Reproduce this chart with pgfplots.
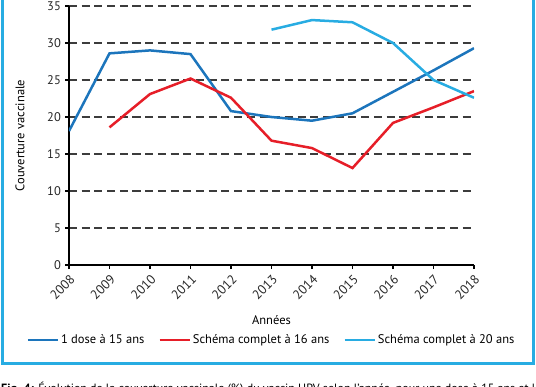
\documentclass[border=0pt]{standalone}
\usepackage{fontspec}
\setmainfont{PT Sans}
\usepackage{pgfplots}
\pgfplotsset{compat=1.18}
\definecolor{dblue}{RGB}{28,117,188}
\definecolor{cred}{RGB}{230,30,40}
\definecolor{lblue}{RGB}{40,172,226}
\definecolor{gridc}{RGB}{60,60,60}
\begin{document}
\fontsize{12}{14}\selectfont
\begin{tikzpicture}[x=1pt,y=1pt]
\clip (-69,-121) rectangle (467,265);
\draw[lblue, line width=3pt] (-66.5,-98) rectangle (464,300);
\begin{axis}[
  at={(0,0)}, anchor=south west,
  scale only axis, width=405pt, height=259pt,
  xmin=2008, xmax=2018, ymin=0, ymax=35,
  axis x line*=bottom, axis y line*=left,
  axis line style={line width=1.3pt, black},
  xtick={2008,...,2018}, ytick={0,5,...,35},
  tick align=outside, major tick length=4pt,
  tick style={line width=1.2pt, black},
  /pgf/number format/1000 sep={},
  /pgf/number format/assume math mode=true,
  ticklabel style={font=\fontsize{12.5}{14}\selectfont, text=black!85},
  xticklabel style={rotate=45, anchor=north east, inner sep=3.5pt, font=\fontsize{13}{14}\selectfont},
  ymajorgrids,
  grid style={gridc, line width=1.4pt, dash pattern=on 8pt off 4.7pt},
  xlabel={Années},
  xlabel style={at={(axis description cs:0.5,-0.212)}, anchor=center, font=\fontsize{12.5}{14}\selectfont},
  ylabel={Couverture vaccinale},
  ylabel style={at={(axis description cs:-0.121,0.5)}, anchor=center, font=\fontsize{12.5}{14}\selectfont},
  legend columns=3,
  legend style={at={(axis description cs:0.5,-0.29)}, anchor=center, draw=none, fill=none,
    font=\fontsize{12.5}{14}\selectfont,
    /tikz/every even column/.append style={column sep=12pt}},
  legend image code/.code={\draw[#1, line width=2.5pt] (0pt,0pt) -- (30pt,0pt);},
]
\addplot[dblue, line width=2.5pt] coordinates {
(2008,18.1) (2009,28.6) (2010,29.0) (2011,28.5) (2012,20.8) (2013,20.0) (2014,19.5) (2015,20.5) (2016,23.4) (2017,26.3) (2018,29.3)};
\addlegendentry{1 dose à 15 ans}
\addplot[cred, line width=2.5pt] coordinates {
(2009,18.6) (2010,23.1) (2011,25.2) (2012,22.6) (2013,16.8) (2014,15.8) (2015,13.1) (2016,19.2) (2017,21.3) (2018,23.5)};
\addlegendentry{Schéma complet à 16 ans}
\addplot[lblue, line width=2.5pt] coordinates {
(2013,31.8) (2014,33.1) (2015,32.8) (2016,30.0) (2017,25.0) (2018,22.6)};
\addlegendentry{Schéma complet à 20 ans}
\end{axis}
\node[anchor=base west, inner sep=0pt, font=\fontsize{12}{14}\selectfont] at (-68,-127)
  {\textbf{Fig. 4:} Évolution de la couverture vaccinale (\%) du vaccin HPV selon l'année, pour une dose à 15 ans et le schéma complet};
\end{tikzpicture}
\end{document}
